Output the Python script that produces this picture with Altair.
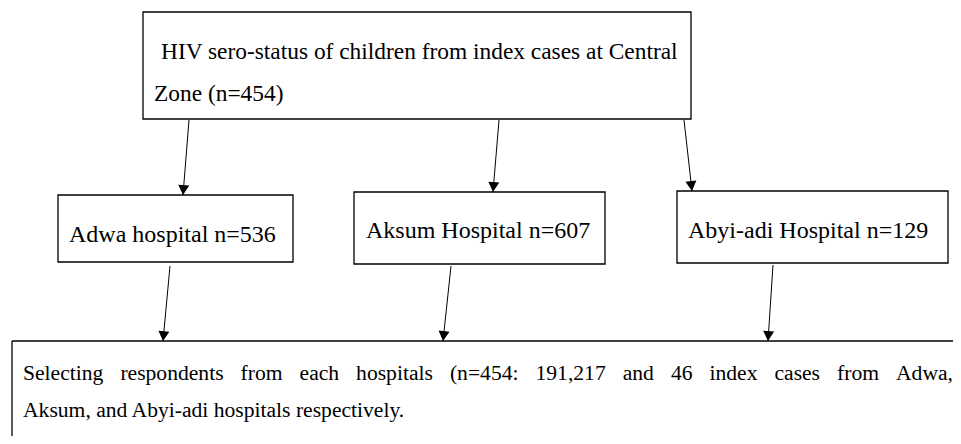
import math
import altair as alt
import pandas as pd

# ---- diagram content (page pixel coordinates) ----
box_names = ["top", "adwa", "aksum", "abyi"]
box_left = [143, 58, 354, 677]
box_right = [691, 293, 605, 948]
box_top = [12, 195, 192, 191]
box_bottom = [119, 262, 264, 263]

# open-ended bottom box (runs off the page): its top edge and left edge
edge_x_start = [12, 12]
edge_x_end = [953, 12]
edge_y_start = [341, 341]
edge_y_end = [341, 436]

arrow_x_start = [189, 499, 684, 170, 451, 773]
arrow_y_start = [120, 120, 120, 266, 266, 265]
arrow_x_end = [183, 493, 692, 163, 443, 768]
arrow_y_end = [195, 192, 191, 341, 341, 341]

title_text = ["HIV sero-status of children from index cases at Central", "Zone (n=454)"]
title_x = [161, 154]
title_y = [59, 101]

hosp_text = ["Adwa hospital n=536", "Aksum Hospital n=607", "Abyi-adi Hospital n=129"]
hosp_x = [69, 366, 688]
hosp_y = [242, 238, 238]

# bottom box: a justified first line and a left-aligned last line
just_words = ["Selecting", "respondents", "from", "each", "hospitals", "(n=454:",
              "191,217", "and", "46", "index", "cases", "from", "Adwa,"]
last_line = "Aksum, and Abyi-adi hospitals respectively."
body_left, body_right = 23, 953
body_y = [380, 417]

TITLE_SIZE, HOSP_SIZE, BODY_SIZE = 23.4, 24, 21.6

# Times-Roman advance widths (per 1000 em) to justify the first line
_w = {" ": 250, "(": 333, ")": 333, ",": 250, "-": 333, ".": 250, ":": 278, "=": 564,
      "A": 722, "S": 556, "a": 444, "c": 444, "d": 500, "e": 444, "f": 333, "g": 500,
      "h": 500, "i": 278, "l": 278, "m": 778, "n": 500, "o": 500, "p": 500, "r": 333,
      "s": 389, "t": 278, "w": 722, "x": 500}
def word_width(w, size):
    return sum(_w.get(ch, 500) for ch in w) / 1000 * size

widths = [word_width(w, BODY_SIZE) for w in just_words]
gap = (body_right - body_left - sum(widths)) / (len(just_words) - 1)
just_x = []
pos = body_left
for wd in widths:
    just_x.append(pos)
    pos += wd + gap

# ---- tables ----
boxes = pd.DataFrame({"name": box_names, "x1": box_left, "x2": box_right,
                      "y1": box_top, "y2": box_bottom})
edges = pd.DataFrame({"x1": edge_x_start, "x2": edge_x_end,
                      "y1": edge_y_start, "y2": edge_y_end})
arrows = pd.DataFrame({"x1": arrow_x_start, "y1": arrow_y_start,
                       "x2": arrow_x_end, "y2": arrow_y_end})
arrows["rot"] = [
    (math.degrees(math.atan2(-(b - a), (d - c))) + 360) % 360
    for a, b, c, d in zip(arrow_x_start, arrow_x_end, arrow_y_start, arrow_y_end)
]
titles = pd.DataFrame({"label": title_text, "px": title_x, "py": title_y})
hosps = pd.DataFrame({"label": hosp_text, "px": hosp_x, "py": hosp_y})
body = pd.DataFrame({
    "label": just_words + [last_line],
    "px": just_x + [body_left],
    "py": [body_y[0]] * len(just_words) + [body_y[1]],
})

# plot area spans page x 8..953 and y 8..436, so data values are page pixels
X = alt.Scale(domain=[8, 953], nice=False, zero=False)
Y = alt.Scale(domain=[8, 436], nice=False, zero=False, reverse=True)

rects = alt.Chart(boxes).mark_rect(
    fill="white", stroke="black", strokeWidth=1.3
).encode(
    x=alt.X("x1:Q", scale=X, axis=None),
    x2="x2:Q",
    y=alt.Y("y1:Q", scale=Y, axis=None),
    y2="y2:Q",
)

open_box = alt.Chart(edges).mark_rule(color="black", strokeWidth=1.3).encode(
    x=alt.X("x1:Q", scale=X, axis=None),
    x2="x2:Q",
    y=alt.Y("y1:Q", scale=Y, axis=None),
    y2="y2:Q",
)

lines = alt.Chart(arrows).mark_rule(color="black", strokeWidth=1).encode(
    x=alt.X("x1:Q", scale=X, axis=None),
    x2="x2:Q",
    y=alt.Y("y1:Q", scale=Y, axis=None),
    y2="y2:Q",
)

heads = alt.Chart(arrows).mark_point(
    shape="M-1,-1.8L1,-1.8L0,0Z", filled=True, size=121,
    color="black", opacity=1, strokeWidth=0
).encode(
    x=alt.X("x2:Q", scale=X, axis=None),
    y=alt.Y("y2:Q", scale=Y, axis=None),
    angle=alt.Angle("rot:Q", scale=None),
)

def text_layer(df, size):
    return alt.Chart(df).mark_text(
        align="left", baseline="alphabetic", font="Liberation Serif",
        fontSize=size, color="black"
    ).encode(
        x=alt.X("px:Q", scale=X, axis=None),
        y=alt.Y("py:Q", scale=Y, axis=None),
        text="label:N",
    )

chart = alt.layer(
    rects, open_box, lines, heads,
    text_layer(titles, TITLE_SIZE),
    text_layer(hosps, HOSP_SIZE),
    text_layer(body, BODY_SIZE),
).properties(
    width=945, height=428, padding=0,
    autosize=alt.AutoSizeParams(type="none"),
).configure_view(stroke=None)

chart.save("out.html", embed_options={"renderer": "svg", "actions": False})
